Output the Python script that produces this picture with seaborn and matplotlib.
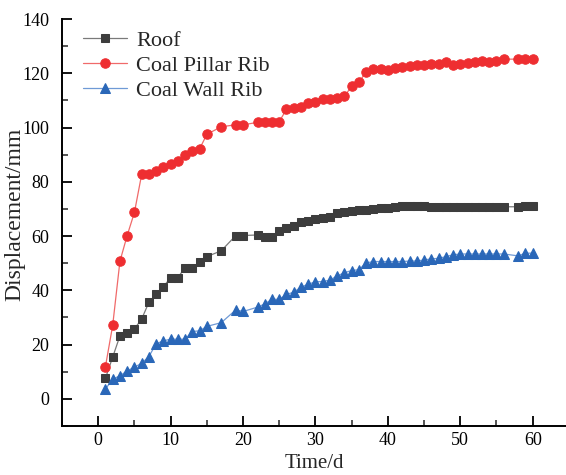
import matplotlib
matplotlib.use("Agg")
import matplotlib.pyplot as plt
import seaborn as sns
import pandas as pd
from matplotlib.ticker import MultipleLocator

days = [1, 2, 3, 4, 5, 6, 7, 8, 9, 10, 11, 12, 13, 14, 15, 17, 19, 20,
        22, 23, 24, 25, 26, 27, 28, 29, 30, 31, 32, 33, 34, 35, 36, 37, 38, 39, 40,
        41, 42, 43, 44, 45, 46, 47, 48, 49, 50, 51, 52, 53, 54, 55, 56, 58, 59, 60]

roof = [7.6, 15.4, 23.2, 24.4, 25.8, 29.4, 35.6, 38.6, 41.3, 44.7, 44.7, 48.4, 48.4, 50.4, 52.4, 54.6, 60.2, 60.2,
        60.4, 59.8, 59.8, 61.9, 63.1, 63.7, 65.3, 65.6, 66.3, 66.7, 66.9, 68.6, 68.9, 69.2, 69.5, 69.7, 70.0, 70.2, 70.4,
        70.7, 70.9, 71.0, 71.1, 71.1, 70.6, 70.6, 70.6, 70.6, 70.6, 70.7, 70.7, 70.8, 70.8, 70.8, 70.8, 70.8, 71.0, 71.2]

pillar = [11.9, 27.1, 50.7, 60.2, 68.7, 82.7, 83.0, 84.0, 85.4, 86.7, 87.7, 89.9, 91.4, 92.1, 97.5, 100.3, 101.0, 101.0,
          101.9, 101.9, 101.9, 102.2, 106.7, 107.1, 107.6, 108.9, 109.3, 110.4, 110.5, 110.8, 111.5, 115.2, 116.6, 120.6, 121.5, 121.5, 121.1,
          122.1, 122.4, 122.8, 123.1, 123.1, 123.3, 123.4, 124.1, 123.1, 123.4, 123.7, 124.0, 124.5, 124.3, 124.5, 125.2, 125.2, 125.2, 125.2]

wall = [3.6, 7.3, 8.5, 10.3, 11.7, 13.1, 15.6, 20.3, 21.4, 22.0, 22.0, 22.0, 24.8, 25.1, 26.7, 28.1, 32.8, 32.2,
        33.8, 35.0, 36.7, 36.7, 38.5, 39.3, 41.2, 42.2, 43.2, 43.2, 43.8, 45.3, 46.5, 47.3, 47.6, 50.1, 50.6, 50.6, 50.6,
        50.6, 50.6, 50.8, 50.8, 51.2, 51.6, 51.8, 52.4, 53.1, 53.4, 53.4, 53.4, 53.4, 53.4, 53.4, 53.4, 52.7, 53.7, 53.7]

series_names = ["Roof", "Coal Pillar Rib", "Coal Wall Rib"]
x_ticks = [0, 10, 20, 30, 40, 50, 60]
y_ticks = [0, 20, 40, 60, 80, 100, 120, 140]

sns.set_style("ticks")
plt.rcParams['font.family'] = ['Liberation Serif', 'DejaVu Serif']

fig = plt.figure(figsize=(5.66, 4.75), dpi=100)
ax = fig.add_axes([62/566, (475-426)/475, (566-62)/566, (426-19)/475])

styles = [
    dict(color="#7a7a7a", marker="s", markersize=5.8, markerfacecolor="#3d3d3d", markeredgecolor="#3d3d3d"),
    dict(color="#f06a6a", marker="o", markersize=6.8, markerfacecolor="#ee2e31", markeredgecolor="#ee2e31"),
    dict(color="#6f9ad6", marker="^", markersize=7.2, markerfacecolor="#2a67b8", markeredgecolor="#2a67b8"),
]
for name, vals, st in zip(series_names, [roof, pillar, wall], styles):
    df = pd.DataFrame({"Time": days, "Displacement": vals})
    sns.lineplot(data=df, x="Time", y="Displacement", ax=ax, label=name,
                 linewidth=0.9, **st)

ax.set_xlim(-5, 64.6)
ax.set_ylim(-10, 140)
ax.set_xticks(x_ticks)
ax.set_yticks(y_ticks)
ax.xaxis.set_minor_locator(MultipleLocator(5))
ax.yaxis.set_minor_locator(MultipleLocator(10))
ax.tick_params(axis="both", which="major", direction="in", length=7, width=1.3, labelsize=13, colors="black")
ax.tick_params(axis="both", which="minor", direction="in", length=4, width=1.1)
ax.tick_params(axis="y", which="major", pad=9)
ax.tick_params(axis="x", which="major", pad=4)
for s in ["top", "right"]:
    ax.spines[s].set_visible(False)
for s in ["left", "bottom"]:
    ax.spines[s].set_linewidth(1.4)
    ax.spines[s].set_color("black")

ax.set_xlabel("Time/d", fontsize=15, labelpad=4)
ax.set_ylabel("Displacement/mm", fontsize=17)
ax.yaxis.set_label_coords((25 - 62) / 504, 0.52)

leg = ax.legend(loc="upper left", frameon=False, fontsize=16, handlelength=2.0,
                handletextpad=0.4, labelspacing=0.2, borderaxespad=0.1,
                bbox_to_anchor=(0.019, 1.0))

fig.savefig("out.png", dpi=100)
